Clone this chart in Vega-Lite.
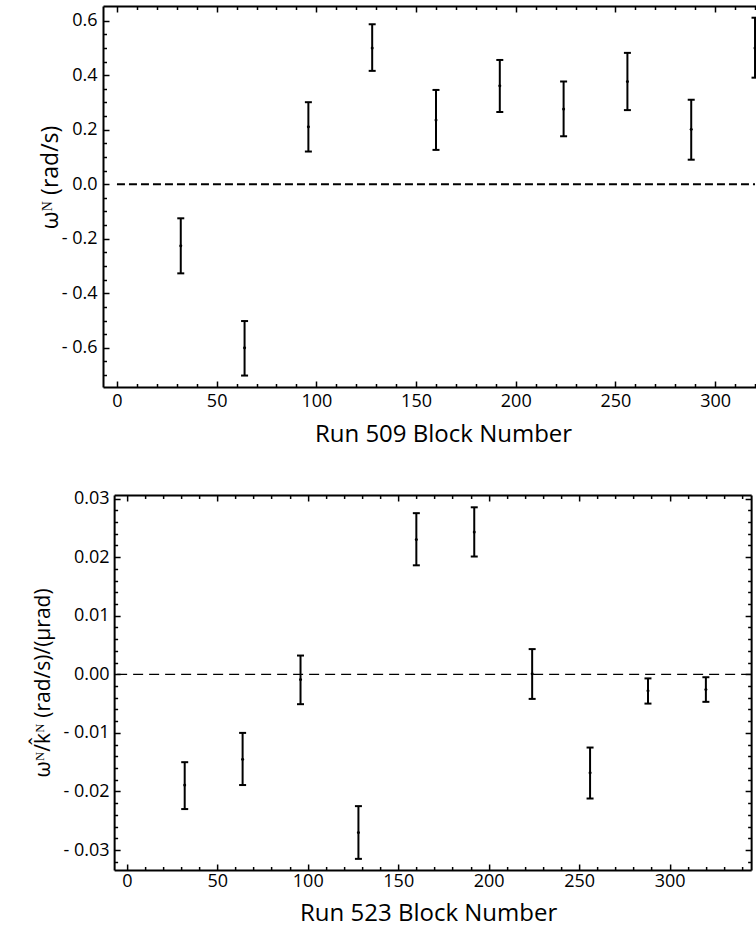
{
  "$schema": "https://vega.github.io/schema/vega-lite/v6.json",
  "padding": {"left": 32, "top": 5, "right": 0, "bottom": 8},
  "background": "white",
  "bounds": "full",
  "center": true,
  "spacing": 43,
  "config": {
    "view": {"stroke": null},
    "font": "Open Sans",
    "axis": {
      "grid": false, "domainColor": "black", "domainWidth": 2, "tickColor": "black", "tickWidth": 1.5,
      "labelColor": "black", "titleColor": "black", "labelFont": "Open Sans", "titleFont": "Open Sans",
      "labelFontSize": 18, "titleFontSize": 24, "titleFontWeight": "normal",
      "labelOverlap": false, "labelBound": false, "labelFlush": false
    },
    "scale": {"continuousPadding": 0}
  },
  "vconcat": [
    {"hconcat": [
    {
      "width": 660,
      "height": 381,
      "data": {"values": [
        {"block": 32, "value": -0.226, "lo": -0.327, "hi": -0.125},
        {"block": 64, "value": -0.600, "lo": -0.702, "hi": -0.502},
        {"block": 96, "value": 0.211, "lo": 0.120, "hi": 0.301},
        {"block": 128, "value": 0.500, "lo": 0.416, "hi": 0.587},
        {"block": 160, "value": 0.236, "lo": 0.126, "hi": 0.346},
        {"block": 192, "value": 0.361, "lo": 0.265, "hi": 0.456},
        {"block": 224, "value": 0.276, "lo": 0.176, "hi": 0.377},
        {"block": 256, "value": 0.377, "lo": 0.272, "hi": 0.482},
        {"block": 288, "value": 0.202, "lo": 0.090, "hi": 0.310},
        {"block": 320, "value": 0.500, "lo": 0.391, "hi": 0.611}
      ]},
      "resolve": {"axis": {"x": "independent", "y": "independent"}},
      "layer": [
        {
          "mark": {"type": "rule", "color": "black", "strokeWidth": 2},
          "encoding": {
            "x": {"field": "block", "type": "quantitative",
              "scale": {"domain": [-7, 324], "nice": false, "zero": false, "padding": 0},
              "axis": {"orient": "bottom",
                "values": [0,10,20,30,40,50,60,70,80,90,100,110,120,130,140,150,160,170,180,190,200,210,220,230,240,250,260,270,280,290,300,310,320],
                "labelExpr": "datum.value % 50 == 0 ? datum.label : ''",
                "tickSize": {"condition": {"test": "datum.value % 50 == 0", "value": -6}, "value": -3.5},
                "labelPadding": 11.5,
                "title": "Run 509 Block Number", "titleX": 340, "titlePadding": 9}},
            "y": {"field": "lo", "type": "quantitative",
              "scale": {"domain": [-0.744, 0.654], "nice": false, "zero": false, "padding": 0},
              "axis": {"orient": "left",
                "values": [-0.7,-0.65,-0.6,-0.55,-0.5,-0.45,-0.4,-0.35,-0.3,-0.25,-0.2,-0.15,-0.1,-0.05,0,0.05,0.1,0.15,0.2,0.25,0.3,0.35,0.4,0.45,0.5,0.55,0.6],
                "labelExpr": "abs(round(datum.value*100)) % 20 == 0 ? (datum.value < -0.001 ? '- ' + format(-datum.value, '.1f') : format(abs(datum.value), '.1f')) : ''",
                "tickSize": {"condition": {"test": "abs(round(datum.value*100)) % 20 == 0", "value": -6}, "value": -3.5},
                "labelPadding": 12,
                "title": "ωᴺ (rad/s)", "titleX": -41, "titleY": 171, "titleFontSize": 23}},
            "y2": {"field": "hi"}
          }
        },
        {
          "mark": {"type": "tick", "orient": "horizontal", "color": "black", "size": 7, "thickness": 2, "opacity": 1},
          "encoding": {
            "x": {"field": "block", "type": "quantitative",
              "axis": {"orient": "top",
                "values": [0,10,20,30,40,50,60,70,80,90,100,110,120,130,140,150,160,170,180,190,200,210,220,230,240,250,260,270,280,290,300,310,320],
                "labels": false, "title": null,
                "tickSize": {"condition": {"test": "datum.value % 50 == 0", "value": -6}, "value": -3.5}}},
            "y": {"field": "lo", "type": "quantitative", "axis": null}
          }
        },
        {
          "mark": {"type": "tick", "orient": "horizontal", "color": "black", "size": 7, "thickness": 2, "opacity": 1},
          "encoding": {
            "x": {"field": "block", "type": "quantitative", "axis": null},
            "y": {"field": "hi", "type": "quantitative", "axis": null}
          }
        },
        {
          "mark": {"type": "point", "filled": true, "color": "black", "size": 9, "opacity": 1},
          "encoding": {
            "x": {"field": "block", "type": "quantitative", "axis": null},
            "y": {"field": "value", "type": "quantitative", "axis": null}
          }
        },
        {
          "data": {"values": [{}]},
          "mark": {"type": "rule", "color": "black", "strokeWidth": 2, "strokeDash": [8, 4]},
          "encoding": {
            "x": {"datum": 0, "type": "quantitative", "axis": null},
            "x2": {"datum": 320},
            "y": {"datum": 0, "type": "quantitative", "axis": null}
          }
        }
      ]
    }
    ]},
    {"hconcat": [
    {
      "width": 637,
      "height": 375,
      "data": {"values": [
        {"block": 32, "value": -0.0189, "lo": -0.0230, "hi": -0.0150},
        {"block": 64, "value": -0.0145, "lo": -0.0189, "hi": -0.0100},
        {"block": 96, "value": -0.0009, "lo": -0.0051, "hi": 0.0032},
        {"block": 128, "value": -0.0270, "lo": -0.0315, "hi": -0.0225},
        {"block": 160, "value": 0.0230, "lo": 0.0186, "hi": 0.0275},
        {"block": 192, "value": 0.0243, "lo": 0.0201, "hi": 0.0285},
        {"block": 224, "value": 0.0001, "lo": -0.0042, "hi": 0.0043},
        {"block": 256, "value": -0.0168, "lo": -0.0212, "hi": -0.0125},
        {"block": 288, "value": -0.0028, "lo": -0.0050, "hi": -0.0007},
        {"block": 320, "value": -0.0026, "lo": -0.0047, "hi": -0.0005}
      ]},
      "resolve": {"axis": {"x": "independent", "y": "independent"}},
      "layer": [
        {
          "mark": {"type": "rule", "color": "black", "strokeWidth": 2},
          "encoding": {
            "x": {"field": "block", "type": "quantitative",
              "scale": {"domain": [-7, 345], "nice": false, "zero": false, "padding": 0},
              "axis": {"orient": "bottom",
                "values": [0,10,20,30,40,50,60,70,80,90,100,110,120,130,140,150,160,170,180,190,200,210,220,230,240,250,260,270,280,290,300,310,320,330,340],
                "labelExpr": "datum.value % 50 == 0 ? datum.label : ''",
                "tickSize": {"condition": {"test": "datum.value % 50 == 0", "value": -6}, "value": -3.5},
                "labelPadding": 8.5,
                "title": "Run 523 Block Number", "titleX": 314, "titlePadding": 8.5}},
            "y": {"field": "lo", "type": "quantitative",
              "scale": {"domain": [-0.0334, 0.0306], "nice": false, "zero": false, "padding": 0},
              "axis": {"orient": "left",
                "values": [-0.032,-0.03,-0.028,-0.026,-0.024,-0.022,-0.02,-0.018,-0.016,-0.014,-0.012,-0.01,-0.008,-0.006,-0.004,-0.002,0,0.002,0.004,0.006,0.008,0.01,0.012,0.014,0.016,0.018,0.02,0.022,0.024,0.026,0.028,0.03],
                "labelExpr": "abs(round(datum.value*1000)) % 10 == 0 ? (datum.value < -0.0001 ? '- ' + format(-datum.value, '.2f') : format(abs(datum.value), '.2f')) : ''",
                "tickSize": {"condition": {"test": "abs(round(datum.value*1000)) % 10 == 0", "value": -6}, "value": -3.5},
                "labelPadding": 11,
                "title": "ωᴺ/k̂ᴺ (rad/s)/(μrad)", "titleX": -61, "titleFontSize": 21}},
            "y2": {"field": "hi"}
          }
        },
        {
          "mark": {"type": "tick", "orient": "horizontal", "color": "black", "size": 7, "thickness": 2, "opacity": 1},
          "encoding": {
            "x": {"field": "block", "type": "quantitative",
              "axis": {"orient": "top",
                "values": [0,10,20,30,40,50,60,70,80,90,100,110,120,130,140,150,160,170,180,190,200,210,220,230,240,250,260,270,280,290,300,310,320,330,340],
                "labels": false, "title": null,
                "tickSize": {"condition": {"test": "datum.value % 50 == 0", "value": -6}, "value": -3.5}}},
            "y": {"field": "lo", "type": "quantitative",
              "axis": {"orient": "right",
                "values": [-0.032,-0.03,-0.028,-0.026,-0.024,-0.022,-0.02,-0.018,-0.016,-0.014,-0.012,-0.01,-0.008,-0.006,-0.004,-0.002,0,0.002,0.004,0.006,0.008,0.01,0.012,0.014,0.016,0.018,0.02,0.022,0.024,0.026,0.028,0.03],
                "labels": false, "title": null,
                "tickSize": {"condition": {"test": "abs(round(datum.value*1000)) % 10 == 0", "value": -6}, "value": -3.5}}}
          }
        },
        {
          "mark": {"type": "tick", "orient": "horizontal", "color": "black", "size": 7, "thickness": 2, "opacity": 1},
          "encoding": {
            "x": {"field": "block", "type": "quantitative", "axis": null},
            "y": {"field": "hi", "type": "quantitative", "axis": null}
          }
        },
        {
          "mark": {"type": "point", "filled": true, "color": "black", "size": 9, "opacity": 1},
          "encoding": {
            "x": {"field": "block", "type": "quantitative", "axis": null},
            "y": {"field": "value", "type": "quantitative", "axis": null}
          }
        },
        {
          "data": {"values": [{}]},
          "mark": {"type": "rule", "color": "black", "strokeWidth": 1.2, "strokeDash": [10, 6]},
          "encoding": {
            "y": {"datum": 0, "type": "quantitative", "axis": null}
          }
        }
      ]
    }
    ]}
  ]
}
